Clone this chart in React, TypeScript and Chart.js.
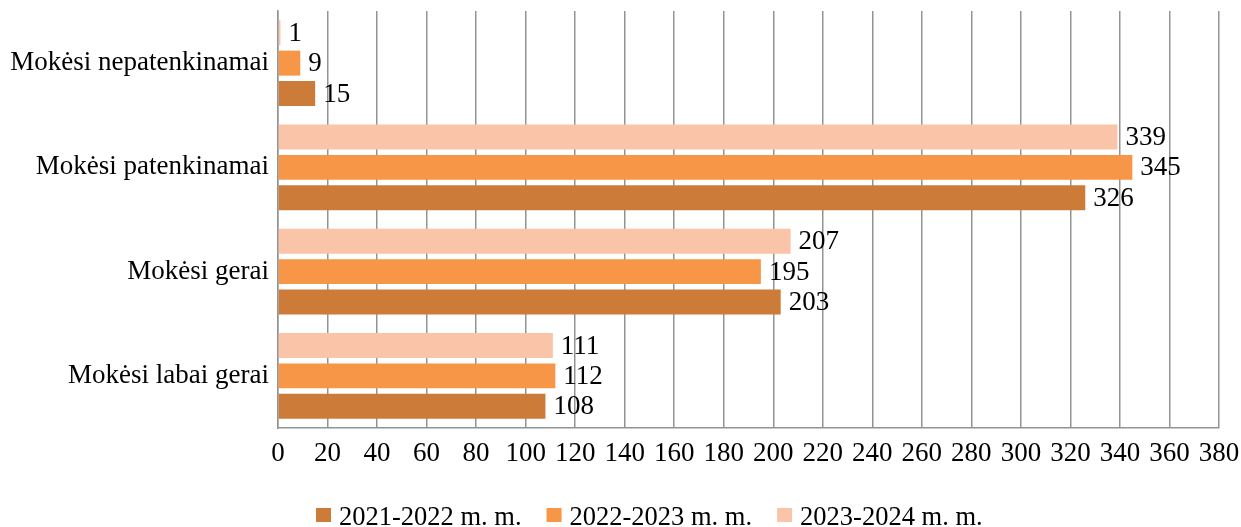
import React, { useEffect, useRef } from "react";
import { Chart, registerables } from "chart.js";

Chart.register(...registerables);

const categories = [
  "Mokėsi nepatenkinamai",
  "Mokėsi patenkinamai",
  "Mokėsi gerai",
  "Mokėsi labai gerai",
];
const seriesNames = ["2021-2022 m. m.", "2022-2023 m. m.", "2023-2024 m. m."];
const values2021 = [15, 326, 203, 108];
const values2022 = [9, 345, 195, 112];
const values2023 = [1, 339, 207, 111];
const colors = ["#CC7B38", "#F79646", "#F9C4A8"];
const xTicksMin = 0;
const xTicksMax = 380;
const xTicksStep = 20;

const FONT = "'Liberation Serif', 'Times New Roman', serif";
const FS = 27;
const LEGEND_FS = 26.5;
const GRID = "#939393";

const valueLabels = {
  id: "valueLabels",
  afterDatasetsDraw(chart: any) {
    const ctx = chart.ctx;
    ctx.save();
    ctx.font = `${FS}px ${FONT}`;
    ctx.fillStyle = "#000";
    ctx.textAlign = "left";
    ctx.textBaseline = "middle";
    chart.data.datasets.forEach((ds: any, i: number) => {
      const meta = chart.getDatasetMeta(i);
      meta.data.forEach((bar: any, j: number) => {
        ctx.fillText(String(ds.data[j]), bar.x + 8, bar.y + 1);
      });
    });
    ctx.restore();
  },
};

const customLegend = {
  id: "customLegend",
  afterDraw(chart: any) {
    const ctx = chart.ctx;
    ctx.save();
    ctx.font = `${LEGEND_FS}px ${FONT}`;
    ctx.textAlign = "left";
    ctx.textBaseline = "alphabetic";
    let x = 316;
    seriesNames.forEach((name, i) => {
      ctx.fillStyle = colors[i];
      ctx.fillRect(x, 508, 15, 14);
      x += 15 + 8;
      ctx.fillStyle = "#000";
      ctx.fillText(name, x, 525);
      x += ctx.measureText(name).width + 25;
    });
    ctx.restore();
  },
};

export default function App() {
  const ref = useRef<HTMLCanvasElement | null>(null);
  useEffect(() => {
    document.body.style.margin = "0";
    if (!ref.current) return;
    const chart = new Chart(ref.current, {
      type: "bar",
      data: {
        labels: categories,
        datasets: [
          { label: seriesNames[2], data: values2023, backgroundColor: colors[2] },
          { label: seriesNames[1], data: values2022, backgroundColor: colors[1] },
          { label: seriesNames[0], data: values2021, backgroundColor: colors[0] },
        ],
      },
      options: {
        indexAxis: "y",
        responsive: false,
        animation: false,
        datasets: {
          bar: { categoryPercentage: 0.875, barPercentage: 0.822 },
        },
        layout: { padding: { top: 11, right: 22, bottom: 0, left: 0 } },
        plugins: {
          legend: { display: false },
          tooltip: { enabled: false },
        },
        scales: {
          x: {
            min: xTicksMin,
            max: xTicksMax,
            ticks: {
              stepSize: xTicksStep,
              color: "#000",
              font: { family: FONT, size: FS },
              padding: 10,
              maxRotation: 0,
              autoSkip: false,
            },
            grid: { color: GRID, lineWidth: 1.5, drawTicks: false },
            border: { color: GRID, width: 1.5 },
            afterFit: (s: any) => {
              s.height = 99;
              s.paddingLeft = 0;
              s.paddingRight = 0;
            },
          },
          y: {
            ticks: {
              color: "#000",
              font: { family: FONT, size: FS },
              padding: 9,
            },
            grid: { display: false, drawTicks: false },
            border: { color: GRID, width: 1.5 },
            afterFit: (s: any) => {
              s.width = 278;
              s.paddingTop = 0;
              s.paddingBottom = 0;
            },
          },
        },
      },
      plugins: [valueLabels, customLegend],
    });
    return () => chart.destroy();
  }, []);
  return (
    <div style={{ width: 1241, height: 527, background: "#fff" }}>
      <canvas ref={ref} width={1241} height={527} style={{ display: "block" }} />
    </div>
  );
}
